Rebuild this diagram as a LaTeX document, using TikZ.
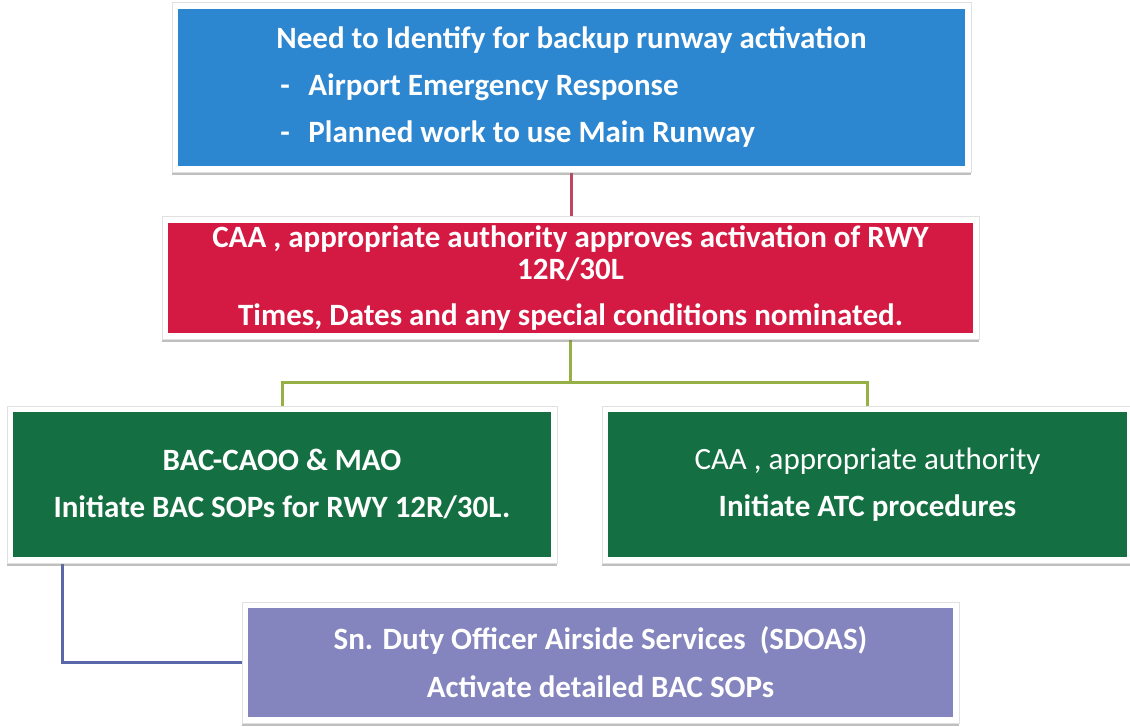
\documentclass[tikz,border=0pt]{standalone}
\usepackage{fontspec}
\setmainfont{Carlito}
\usetikzlibrary{shadows}

\definecolor{boxblue}{RGB}{44,134,208}
\definecolor{boxred}{RGB}{212,26,66}
\definecolor{boxgreen}{RGB}{20,112,66}
\definecolor{boxpurple}{RGB}{132,132,190}
\definecolor{linkred}{RGB}{192,70,96}
\definecolor{linkgreen}{RGB}{150,176,70}
\definecolor{linkpurple}{RGB}{90,104,170}

\pgfdeclarelayer{paper}
\pgfdeclarelayer{links}
\pgfdeclarelayer{frames}
\pgfsetlayers{paper,links,frames,main}

\begin{document}
\begin{tikzpicture}[x=1pt,y=-1pt,
  panel/.style={rectangle, inner sep=0pt, text=white,
    font=\bfseries\fontsize{31}{47}\selectfont, align=center},
  frame/.style={fill=white, draw=black!12, line width=0.6pt,
    drop shadow={shadow xshift=0pt, shadow yshift=-2.5pt, opacity=.45, fill=black!55}},
  link/.style={line width=3pt}
]
\begin{pgfonlayer}{paper}
  \fill[white] (0,0) rectangle (1130,727);
\end{pgfonlayer}
\useasboundingbox (0,0) rectangle (1130,727);

% boxes
\node[panel, fill=boxblue, minimum width=787pt, minimum height=157pt, align=left] (need) at (571.5,87.5)
  {Need to Identify for backup runway activation\\
   \makebox[32pt][l]{\hspace{4pt}-}Airport Emergency Response\\
   \makebox[32pt][l]{\hspace{4pt}-}Planned work to use Main Runway};

\node[panel, fill=boxred, minimum width=805pt, minimum height=110pt] (caa) at (570.5,278)
  {CAA , appropriate authority approves activation of RWY\\[-15pt]
   12R/30L\\[-1pt]
   Times, Dates and any special conditions nominated.};

\node[panel, fill=boxgreen, minimum width=538pt, minimum height=145pt] (bac) at (282,484.5)
  {BAC-CAOO \& MAO\\
   Initiate BAC SOPs for RWY 12R/30L.};

\node[panel, fill=boxgreen, minimum width=519pt, minimum height=145pt] (atc) at (867.5,484.5)
  {{\mdseries CAA , appropriate authority}\\
   Initiate ATC procedures};

\node[panel, fill=boxpurple, minimum width=705pt, minimum height=109pt] (sdoas) at (600.5,662.5)
  {Sn. Duty Officer Airside Services\ \ (SDOAS)\\[1pt]
   Activate detailed BAC SOPs};

% white mounts behind each box
\begin{pgfonlayer}{frames}
  \foreach \n in {need,caa,bac,atc,sdoas}
    \path[frame] ([shift={(-6,-6)}]\n.north west) rectangle ([shift={(6,6)}]\n.south east);
\end{pgfonlayer}

% connectors
\begin{pgfonlayer}{links}
  \draw[link, linkred] (need.south) -- (need.south |- caa.north);
  \draw[link, linkgreen] (caa.south) -- ++(0,49) coordinate (split);
  \draw[link, linkgreen] (bac.north) |- (split) -| (atc.north);
  \draw[link, linkpurple] ([xshift=50pt]bac.south west) |- (sdoas.west);
\end{pgfonlayer}
\end{tikzpicture}
\end{document}
